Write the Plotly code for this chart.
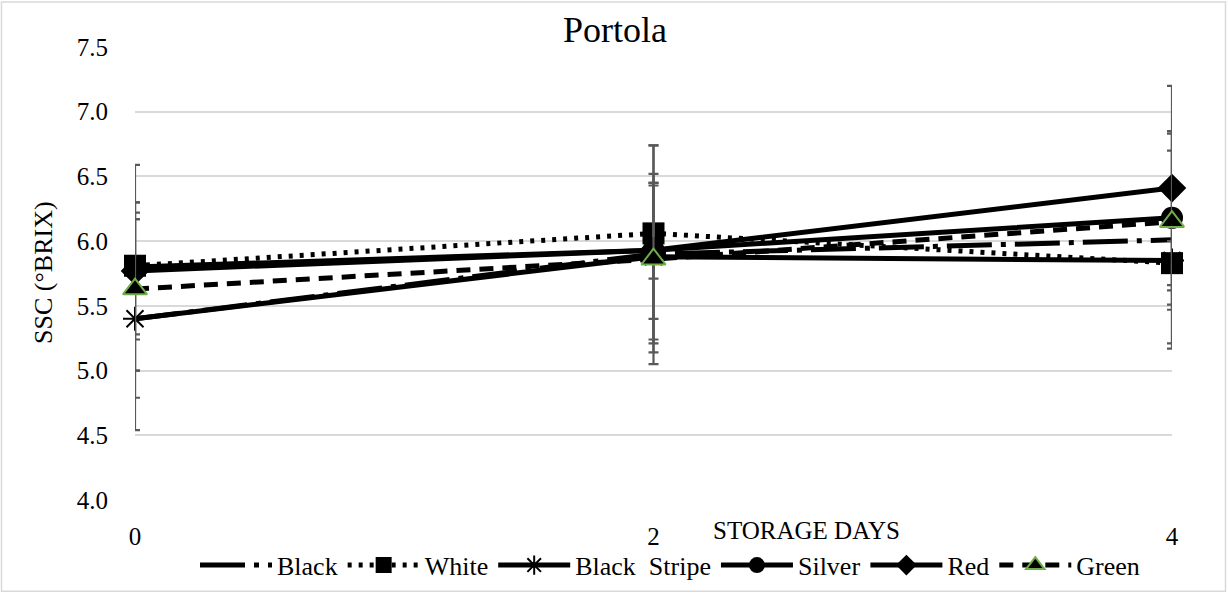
import plotly.graph_objects as go

# ---------------- data ----------------
days = [0, 2, 4]
series_names = ["Black", "White", "Black\u00a0\u00a0Stripe", "Silver", "Red", "Green"]

black = [5.40, 5.90, 6.01]
white = [5.81, 6.06, 5.83]
black_stripe = [5.40, 5.88, 5.85]
silver = [5.80, 5.93, 6.18]
red = [5.77, 5.93, 6.41]
green = [5.63, 5.86, 6.15]

# error bars (upper / lower amounts)
black_err_up = [0.90, 0.84, 0.84]
black_err_dn = [0.86, 0.85, 0.84]
white_err_up = [0.78, 0.37, 0.17]
white_err_dn = [0.81, 0.35, 0.17]
black_stripe_err_up = [0.77, 0.64, 0.85]
black_stripe_err_dn = [0.61, 0.64, 0.64]
silver_err_up = [0.42, 0.81, 0.67]
silver_err_dn = [0.52, 0.79, 0.67]
red_err_up = [0.53, 0.52, 0.79]
red_err_dn = [0.53, 0.53, 0.79]
green_err_up = [0.54, 0.59, 0.68]
green_err_dn = [0.63, 0.65, 0.68]

y_ticks = [4.0, 4.5, 5.0, 5.5, 6.0, 6.5, 7.0, 7.5]
x_ticks = [0, 2, 4]

# ---------------- style ----------------
FONT = "Liberation Serif"
W, H = 1228, 601
ML, MR, MT, MB = 135, 56, 47, 95
PW, PH = W - ML - MR, H - MT - MB
ERR_COLOR = "#595959"
LW = 5


def px_x(p):
    return (p - ML) / PW


def px_y(p):
    return (H - MB - p) / PH


def err(up, dn):
    return dict(type="data", symmetric=False, array=up, arrayminus=dn,
                color=ERR_COLOR, thickness=2.2, width=5)


fig = go.Figure()

specs = [
    (series_names[0], black, black_err_up, black_err_dn, "45px,9px,5px,9px", None, None),
    (series_names[1], white, white_err_up, white_err_dn, "4px,7px", "square", None),
    (series_names[2], black_stripe, black_stripe_err_up, black_stripe_err_dn, "solid", "asterisk-open", None),
    (series_names[3], silver, silver_err_up, silver_err_dn, "solid", "circle", None),
    (series_names[4], red, red_err_up, red_err_dn, "solid", "diamond", None),
    (series_names[5], green, green_err_up, green_err_dn, "14px,9px", "triangle-up", "#70ad47"),
]

for name, vals, eu, ed, dash, sym, outline in specs:
    if sym is None:
        mode = "lines"
        marker = None
    else:
        mode = "lines+markers"
        if sym == "asterisk-open":
            marker = dict(symbol=sym, size=20, color="black",
                          line=dict(color="black", width=2))
        elif outline:
            marker = dict(symbol=sym, size=21, color="black",
                          line=dict(color=outline, width=2))
        else:
            size = {"square": 22, "circle": 22, "diamond": 22}[sym]
            marker = dict(symbol=sym, size=size, color="black",
                          line=dict(color="black", width=0))
    tr = dict(x=days, y=vals, name=name, mode=mode,
              line=dict(color="black", width=LW, dash=dash),
              error_y=err(eu, ed), cliponaxis=False)
    if marker is not None:
        tr["marker"] = marker
    fig.add_trace(go.Scatter(**tr))

fig.update_layout(
    width=W, height=H,
    margin=dict(l=ML, r=MR, t=MT, b=MB),
    paper_bgcolor="white", plot_bgcolor="white",
    font=dict(family=FONT, color="black", size=25),
    showlegend=True,
    legend=dict(orientation="h", x=px_x(670), xanchor="center",
                y=px_y(572), yanchor="middle",
                font=dict(family=FONT, size=26, color="black"),
                bgcolor="rgba(0,0,0,0)", itemwidth=72, tracegroupgap=0),
    xaxis=dict(range=[0, 4], tickvals=x_ticks, ticktext=[str(v) for v in x_ticks],
               showgrid=False, zeroline=False, showline=False, ticks="",
               tickfont=dict(family=FONT, size=25, color="black"),
               ticklabelstandoff=19),
    yaxis=dict(range=[4, 7.5], tickvals=y_ticks, ticktext=[f"{v:.1f}" for v in y_ticks],
               showgrid=True, gridcolor="#d9d9d9", gridwidth=1.5,
               zeroline=False, showline=False, ticks="",
               tickfont=dict(family=FONT, size=25, color="black"),
               ticklabelstandoff=26),
    annotations=[
        dict(text="Portola", xref="paper", yref="paper", x=px_x(615), y=px_y(30),
             xanchor="center", yanchor="middle", showarrow=False,
             font=dict(family=FONT, size=36, color="black")),
        dict(text="SSC (°BRIX)", xref="paper", yref="paper", x=px_x(43), y=px_y(276),
             xanchor="center", yanchor="middle", showarrow=False, textangle=-90,
             font=dict(family=FONT, size=26, color="black")),
        dict(text="STORAGE DAYS", xref="paper", yref="paper", x=px_x(806), y=px_y(537),
             xanchor="center", yanchor="middle", showarrow=False,
             font=dict(family=FONT, size=25, color="black")),
    ],
    shapes=[
        dict(type="rect", xref="paper", yref="paper",
             x0=px_x(1.5), x1=px_x(W - 2.5), y0=px_y(H - 2.5), y1=px_y(1.5),
             line=dict(color="#d9d9d9", width=1.5), fillcolor="rgba(0,0,0,0)",
             layer="below"),
    ],
)

fig.write_html("out.html")
